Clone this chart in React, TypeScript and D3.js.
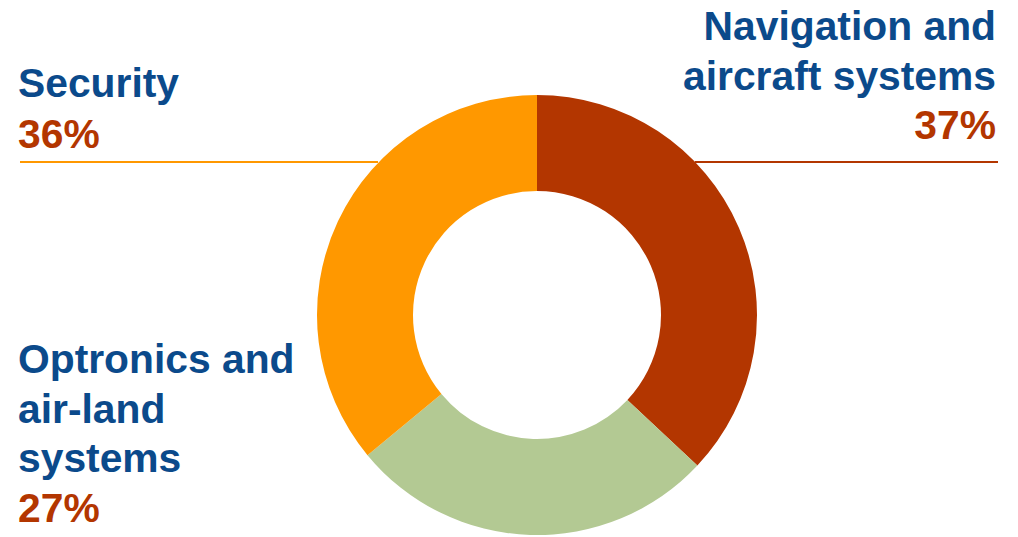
import React from "react";
import * as d3 from "d3";

const categories = ["Navigation and aircraft systems", "Optronics and air-land systems", "Security"];
const values = [37, 27, 36];
const colors = ["#B33600", "#B3C993", "#FF9800"];
const labelLines = [
  ["Navigation and", "aircraft systems"],
  ["Optronics and", "air-land", "systems"],
  ["Security"],
];
const pctLabels = ["37%", "27%", "36%"];

const W = 1018;
const H = 537;
const cx = 537;
const cy = 315;
const outerR = 220;
const innerR = 124;

export default function App() {
  const pie = d3.pie<number>().sort(null).value((d) => d)(values);
  const arc = d3.arc<d3.PieArcDatum<number>>().innerRadius(innerR).outerRadius(outerR);
  const blue = "#0B4A8B";
  const brown = "#B33600";
  const fontStyle = { fontFamily: "'Liberation Sans', Arial, sans-serif", fontWeight: 700, fontSize: 40.8 };

  const blocks = [
    { x: 996, anchor: "end", y0: 40, dy: 49.5 },
    { x: 18, anchor: "start", y0: 373, dy: 49.5 },
    { x: 18, anchor: "start", y0: 97, dy: 51 },
  ];

  return (
    <svg width={W} height={H} style={{ position: "absolute", left: 0, top: 0 }}>
      <rect width={W} height={H} fill="#fff" />
      <g transform={`translate(${cx},${cy})`}>
        {pie.map((p, i) => (
          <path key={i} d={arc(p) || ""} fill={colors[i]} />
        ))}
      </g>
      <line x1={20} x2={378} y1={162} y2={162} stroke="#FF9800" strokeWidth={2} />
      <line x1={695} x2={998} y1={162} y2={162} stroke={brown} strokeWidth={2} />
      {blocks.map((b, i) => (
        <text key={categories[i]} textAnchor={b.anchor as any} style={fontStyle}>
          {labelLines[i].map((l, j) => (
            <tspan key={j} x={b.x} y={b.y0 + j * b.dy} fill={blue}>
              {l}
            </tspan>
          ))}
          <tspan x={b.x} y={b.y0 + labelLines[i].length * b.dy} fill={brown}>
            {pctLabels[i]}
          </tspan>
        </text>
      ))}
    </svg>
  );
}
